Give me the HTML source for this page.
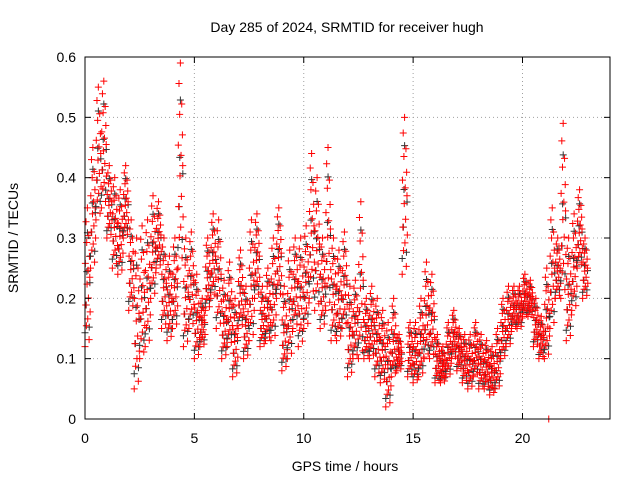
<!DOCTYPE html>
<html><head><meta charset="utf-8"><style>
body{margin:0;background:#fff}
svg{display:block;font-family:"Liberation Sans",sans-serif}
</style></head><body>
<svg id="chart" width="640" height="480">
<text x="347" y="32" text-anchor="middle" font-size="14">Day 285 of 2024, SRMTID for receiver hugh</text>
<text x="345" y="471" text-anchor="middle" font-size="14">GPS time / hours</text>
<text transform="translate(18,238) rotate(-90)" text-anchor="middle" font-size="14">SRMTID / TECUs</text>
<g id="grid"></g><g id="marks"></g><g id="axes"></g>
</svg>
<script>
const yTicks=[0,0.1,0.2,0.3,0.4,0.5,0.6];
const yTickLabels=["0","0.1","0.2","0.3","0.4","0.5","0.6"];
const xTicks=[0,5,10,15,20];
const xTickLabels=["0","5","10","15","20"];
const binStart=0,binWidth=0.25;
const lows=[0.12,0.25,0.33,0.35,0.3,0.25,0.24,0.3,0.18,0.05,0.1,0.12,0.2,0.25,0.15,0.13,0.15,0.25,0.12,0.15,0.1,0.12,0.18,0.2,0.15,0.1,0.12,0.07,0.15,0.1,0.13,0.2,0.12,0.13,0.13,0.2,0.08,0.1,0.15,0.12,0.15,0.2,0.18,0.15,0.18,0.13,0.13,0.15,0.07,0.1,0.1,0.1,0.1,0.07,0.06,0.02,0.07,0.08,0.24,0.07,0.06,0.07,0.1,0.1,0.06,0.06,0.07,0.1,0.08,0.06,0.05,0.07,0.05,0.05,0.04,0.05,0.1,0.12,0.15,0.15,0.17,0.17,0.12,0.1,0.1,0.15,0.2,0.2,0.13,0.18,0.25,0.2];
const highs=[0.35,0.45,0.55,0.56,0.42,0.4,0.38,0.42,0.33,0.3,0.32,0.33,0.37,0.36,0.3,0.27,0.3,0.59,0.3,0.31,0.24,0.2,0.3,0.34,0.33,0.23,0.26,0.2,0.28,0.22,0.33,0.34,0.22,0.25,0.3,0.35,0.22,0.28,0.3,0.3,0.32,0.44,0.4,0.3,0.45,0.3,0.28,0.31,0.22,0.23,0.36,0.2,0.22,0.2,0.18,0.16,0.2,0.14,0.5,0.16,0.16,0.2,0.26,0.24,0.14,0.12,0.16,0.18,0.15,0.14,0.14,0.16,0.14,0.13,0.12,0.15,0.2,0.22,0.22,0.22,0.24,0.23,0.2,0.17,0.25,0.35,0.3,0.49,0.3,0.34,0.38,0.3];
const outlierTimes=[21.2];
const outlierValues=[0];
const L=85,R=610,T=57,B=419,xMax=24,yMax=0.6;
const xs=v=>L+(v/xMax)*(R-L), ys=v=>B-(v/yMax)*(B-T);
const NS="http://www.w3.org/2000/svg";
function mk(tag,at,parent){const e=document.createElementNS(NS,tag);for(const k in at)e.setAttribute(k,at[k]);parent.appendChild(e);return e;}
const grid=document.getElementById('grid'),axes=document.getElementById('axes'),marks=document.getElementById('marks');
yTicks.forEach((v,i)=>{
 if(i>0&&i<yTicks.length-1){const g=mk('line',{x1:L,x2:R,y1:ys(v),y2:ys(v),stroke:'#a0a0a0','stroke-dasharray':'1,3'},grid);
 
 }
 const t=mk('text',{x:L-9,y:ys(v)+5,'text-anchor':'end','font-size':14},axes);t.textContent=yTickLabels[i];
 
 
 mk('line',{x1:L,x2:L+6,y1:ys(v),y2:ys(v),stroke:'#000'},axes);
 mk('line',{x1:R,x2:R-6,y1:ys(v),y2:ys(v),stroke:'#000'},axes);
});
xTicks.forEach((v,i)=>{
 if(i>0){const g=mk('line',{x1:xs(v),x2:xs(v),y1:T,y2:B,stroke:'#a0a0a0','stroke-dasharray':'1,3'},grid);
 
 }
 const t=mk('text',{x:xs(v),y:B+24,'text-anchor':'middle','font-size':14},axes);t.textContent=xTickLabels[i];
 
 
 mk('line',{x1:xs(v),x2:xs(v),y1:B,y2:B-6,stroke:'#000'},axes);
 mk('line',{x1:xs(v),x2:xs(v),y1:T,y2:T+6,stroke:'#000'},axes);
});
const box=mk('rect',{x:L,y:T,width:R-L,height:B-T,fill:'none',stroke:'#000'},axes);


const fr=[0,0.6,0.3,0.9,0.15,0.75,0.45,1,0.2,0.55,0.35,0.8,0.05,0.65,0.5,0.25];
function plus(x,y,c,name){const p=mk('path',{d:`M${x-3.5},${y}h7M${x},${y-3.5}v7`,stroke:c,'stroke-width':1,fill:'none'},marks);
 
 }
lows.forEach((lo,i)=>{const hi=highs[i];const t0=binStart+i*binWidth;
 for(let k=0;k<fr.length;k+=3){plus(xs(t0+((k*0.037)%binWidth)),ys(lo+(hi-lo)*(0.1+0.8*fr[k])),'#333','black-point');}
 for(let k=0;k<fr.length;k++){plus(xs(t0+k*binWidth/fr.length),ys(lo+(hi-lo)*fr[k]),'#ff0000','red-point');}
});
outlierTimes.forEach((t,i)=>plus(xs(t),ys(outlierValues[i]),'#ff0000','red-outlier-point'));
</script>
</body></html>
